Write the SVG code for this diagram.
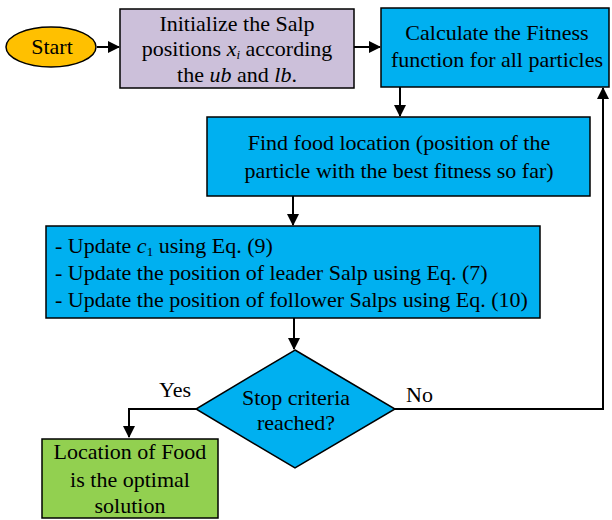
<svg xmlns="http://www.w3.org/2000/svg" width="612" height="520" viewBox="0 0 612 520">
<style>
text{font-family:"Liberation Serif","Times New Roman",serif;font-size:22px;fill:#000}
.c{text-anchor:middle}
.sub{font-size:13px}
.box{stroke:#000;stroke-width:1.5}
.ln{fill:none;stroke:#000;stroke-width:2}
</style>
<defs>
<marker id="ah" markerWidth="12" markerHeight="12" refX="11" refY="6" orient="auto" markerUnits="userSpaceOnUse">
<path d="M0,0 L12,6 L0,12 z" fill="#000"/>
</marker>
</defs>
<rect width="612" height="520" fill="#fff"/>
<g font-family="Liberation Serif" font-size="22">
<g id="connectors">
<line class="ln" x1="97" y1="47" x2="119" y2="47" marker-end="url(#ah)"/>
<line class="ln" x1="354" y1="47" x2="380" y2="47" marker-end="url(#ah)"/>
<line class="ln" x1="400" y1="87" x2="400" y2="116" marker-end="url(#ah)"/>
<line class="ln" x1="293" y1="196" x2="293" y2="225" marker-end="url(#ah)"/>
<line class="ln" x1="294" y1="318" x2="294" y2="349" marker-end="url(#ah)"/>
<polyline class="ln" points="196,409 129,409 129,437" marker-end="url(#ah)"/>
<polyline class="ln" points="395,409 603,409 603,88" marker-end="url(#ah)"/>
<text x="159" y="397">Yes</text>
<text x="406" y="402">No</text>
</g>
<g id="start">
<ellipse cx="51" cy="47" rx="45" ry="20" fill="#FFC000" class="box"/>
<text class="c" x="52" y="54">Start</text>
</g>
<g id="init">
<rect x="120" y="9" width="234" height="79" fill="#CCC0DA" class="box"/>
<text class="c" x="237" y="31">Initialize the Salp</text>
<text class="c" x="237" y="56">positions <tspan font-style="italic">x</tspan><tspan class="sub" font-style="italic" dy="3">i</tspan><tspan dy="-3"> according</tspan></text>
<text class="c" x="237" y="82">the <tspan font-style="italic">ub</tspan> and <tspan font-style="italic">lb</tspan>.</text>
</g>
<g id="fitness">
<rect x="381" y="8" width="228" height="79" fill="#00B0F0" class="box"/>
<text class="c" x="497" y="40">Calculate the Fitness</text>
<text class="c" x="497" y="67">function for all particles</text>
</g>
<g id="food">
<rect x="207" y="117" width="383" height="79" fill="#00B0F0" class="box"/>
<text class="c" x="399" y="150">Find food location (position of the</text>
<text class="c" x="399" y="178">particle with the best fitness so far)</text>
</g>
<g id="update">
<rect x="46" y="226" width="494" height="92" fill="#00B0F0" class="box"/>
<text x="55" y="253">- Update <tspan font-style="italic">c</tspan><tspan class="sub" dy="3">1</tspan><tspan dy="-3"> using Eq. (9)</tspan></text>
<text x="55" y="280">- Update the position of leader Salp using Eq. (7)</text>
<text x="55" y="307">- Update the position of follower Salps using Eq. (10)</text>
</g>
<g id="decision">
<polygon points="295,350 395,409 295,468 196,409" fill="#00B0F0" class="box"/>
<text class="c" x="296" y="405">Stop criteria</text>
<text class="c" x="296" y="430">reached?</text>
</g>
<g id="result">
<rect x="42" y="439" width="176" height="79" fill="#92D050" class="box"/>
<text class="c" x="130" y="459">Location of Food</text>
<text class="c" x="130" y="487">is the optimal</text>
<text class="c" x="130" y="513">solution</text>
</g>
</g>
</svg>
